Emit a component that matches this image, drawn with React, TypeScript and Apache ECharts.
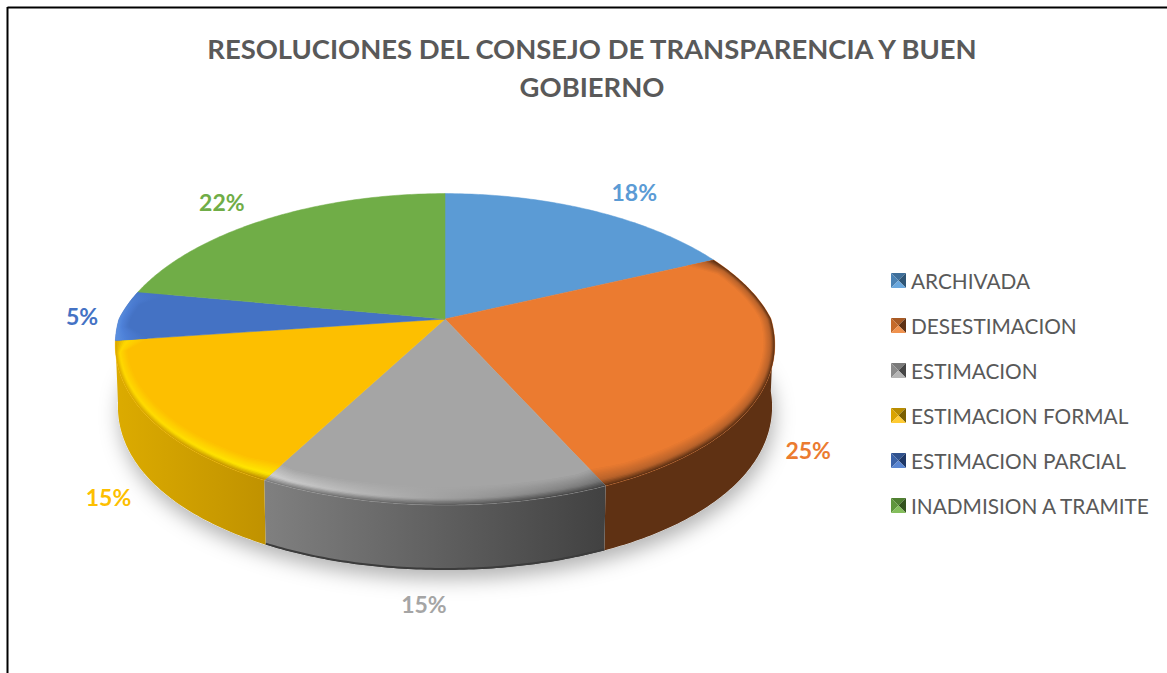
import React, { useEffect, useRef } from "react";
import * as echarts from "echarts";

const TITLE = "RESOLUCIONES DEL CONSEJO DE TRANSPARENCIA Y BUEN\nGOBIERNO";
const CATEGORIES = ["ARCHIVADA", "DESESTIMACION", "ESTIMACION", "ESTIMACION FORMAL", "ESTIMACION PARCIAL", "INADMISION A TRAMITE"];
const VALUES = [18, 25, 15, 15, 5, 22];
const COLORS = ["#5B9BD5", "#EB7B30", "#A5A5A5", "#FDBF00", "#4472C4", "#70AD47"];

// label nudges away from the rim, following the reference's "best fit" placement
const LABEL_NUDGE = [[43, -18], [40, 72], [-9, 99], [-42, 78], [-39.5, 2], [-46.6, -17]];

// side wall colours, left to right
const SIDE = [["#3F6F9A", "#3F6F9A"], ["#5F3113", "#5F3113"], ["#808080", "#414141"], ["#DCAB00", "#C09200"], ["#2F5597", "#2F5597"], ["#4E7A32", "#4E7A32"]];
// bevel colours: [outer, mid, inner] at left and at right of a slice; null means a flat slice
const RIM_LEFT = [
  null,
  ["#5F3113", "#B8622A", "#EB7B30"],
  ["#808080", "#CFCFCF", "#A5A5A5"],
  ["#DCAB00", "#FFD800", "#FDBF00"],
  ["#5B90E0", "#4F82DA", "#4472C4"],
  null,
];
const RIM_RIGHT = [
  null,
  ["#5F3113", "#B8622A", "#EB7B30"],
  ["#454545", "#787878", "#A5A5A5"],
  ["#C09200", "#FFE800", "#FDBF00"],
  ["#4472C4", "#4472C4", "#4472C4"],
  null,
];
const LEGEND_SHADES = [
  ["#3F6F9A", "#4A82B4", "#2F5575", "#6AA8DE"],
  ["#A85A24", "#C56A2A", "#5F3113", "#F0924E"],
  ["#7A7A7A", "#8A8A8A", "#454545", "#B5B5B5"],
  ["#B88C00", "#D9A300", "#7A5E00", "#FFCB33"],
  ["#30528E", "#3A62A8", "#1F3766", "#5A86D2"],
  ["#508031", "#5F963C", "#33531F", "#84BE5C"],
];

const CX = 445, CY = 319, RX = 326, RY_BACK = 150, RY_FRONT = 170;
const PX_BACK = 0.23, PX_FRONT = 0.15, PY_BACK = 0.196, PY_FRONT = 0.086;
const FLOOR_DROP = 61.3, FLOOR_SCALE_X = 0.992, FLOOR_SCALE_Y = 1.02;
const BEVEL_X = 0.034, BEVEL_Y = 0.098, BEVEL_STEPS = 14, BEVEL_PEAK = 0.32, EDGE_BLEND = 0.012;
const FRONT_START = 0.26, FRONT_END = 0.73;

const TOTAL = VALUES.reduce((a, b) => a + b, 0);
const STARTS = VALUES.map((_, i) => VALUES.slice(0, i).reduce((a, b) => a + b, 0) / TOTAL);

function rim(frac: number, bevel = 0, floor = false, bevelX = BEVEL_X): number[] {
  const a = frac * 2 * Math.PI;
  const u = Math.sin(a), v = Math.cos(a);
  const back = v >= 0;
  let x = (RX * u) / (1 + (back ? PX_BACK : PX_FRONT) * v);
  let y = (-(back ? RY_BACK : RY_FRONT) * v) / (1 + (back ? PY_BACK : PY_FRONT) * v);
  x *= 1 - bevelX * bevel;
  y *= 1 - BEVEL_Y * bevel;
  if (floor) { x *= FLOOR_SCALE_X; y = y * FLOOR_SCALE_Y + FLOOR_DROP; }
  return [CX + x, CY + y];
}
function arc(s: number, e: number, bevel = 0, floor = false): number[][] {
  const n = Math.max(2, Math.ceil((e - s) / 0.002));
  const out: number[][] = [];
  for (let i = 0; i <= n; i++) {
    const f = s + ((e - s) * i) / n;
    // at a slice's two ends the bevel closes along the straight radial edge
    const w = Math.max(0, 1 - Math.min(f - s, e - f) / EDGE_BLEND);
    out.push(rim(f, bevel, floor, BEVEL_X + (BEVEL_Y - BEVEL_X) * w));
  }
  return out;
}
function hex(c: string) { return [1, 3, 5].map((i) => parseInt(c.slice(i, i + 2), 16)); }
function mix(a: string, b: string, t: number) {
  const A = hex(a), B = hex(b);
  return `rgb(${A.map((v, i) => Math.round(v + (B[i] - v) * t)).join(",")})`;
}
function profile(p: string[], b: number) {
  // b = 0 at the outer rim, 1 on the flat top
  return b < BEVEL_PEAK ? mix(p[0], p[1], b / BEVEL_PEAK) : mix(p[1], p[2], (b - BEVEL_PEAK) / (1 - BEVEL_PEAK));
}
function hgrad(c0: string, c1: string) {
  return new echarts.graphic.LinearGradient(0, 0, 1, 0, [{ offset: 0, color: c0 }, { offset: 1, color: c1 }]);
}
function legendIcon(i: number) {
  const [t, l, r, b] = LEGEND_SHADES[i];
  const svg = `<svg xmlns="http://www.w3.org/2000/svg" width="15" height="15" viewBox="0 0 15 15"><polygon points="0,0 15,0 7.5,7.5" fill="${t}"/><polygon points="0,0 7.5,7.5 0,15" fill="${l}"/><polygon points="15,0 15,15 7.5,7.5" fill="${r}"/><polygon points="0,15 15,15 7.5,7.5" fill="${b}"/></svg>`;
  return "image://data:image/svg+xml;charset=utf-8," + encodeURIComponent(svg);
}

const FONT = "Lato, 'Open Sans', sans-serif";

function buildOption() {
  const shadow = {
    type: "custom", coordinateSystem: "none", silent: true, z: 1, data: [[1]],
    renderItem: () => ({
      type: "polygon", silent: true,
      shape: { points: arc(0, 1, 0, true) },
      style: { fill: "#ffffff", shadowBlur: 20, shadowColor: "rgba(0,0,0,0.3)", shadowOffsetY: 9, shadowOffsetX: 2 },
    }),
  };
  const sides = CATEGORIES.map((name, i) => ({
    type: "custom", name, coordinateSystem: "none", silent: true, z: 2,
    itemStyle: { color: COLORS[i] }, data: [[VALUES[i], STARTS[i]]],
    renderItem: (_: any, api: any) => {
      const start = api.value(1), end = start + api.value(0) / TOTAL;
      const s = Math.max(start, FRONT_START), e = Math.min(end, FRONT_END);
      if (e <= s) return { type: "group", children: [] };
      const floorArc = arc(s, e, 0, true);
      const children: any[] = [{
        type: "polygon", silent: true,
        shape: { points: [...arc(s, e), ...floorArc.slice().reverse()] },
        style: { fill: hgrad(SIDE[i][0], SIDE[i][1]) },
      }];
      if (i === 2) children.push({ type: "polyline", silent: true, shape: { points: floorArc.map((p) => [p[0], p[1] - 1]) }, style: { stroke: "#3C3C3C", lineWidth: 2, fill: "none" } });
      return { type: "group", children };
    },
  }));
  const tops = CATEGORIES.map((name, i) => ({
    type: "custom", name, coordinateSystem: "none", silent: true, z: 3,
    itemStyle: { color: COLORS[i] }, data: [[VALUES[i], STARTS[i]]],
    renderItem: (_: any, api: any) => {
      const value = api.value(0), start = api.value(1), end = start + value / TOTAL;
      const children: any[] = [];
      const left = RIM_LEFT[i], right = RIM_RIGHT[i];
      // base sector under the bevel, so that no background shows between slices
      children.push({
        type: "polygon", silent: true,
        shape: { points: [[CX, CY], ...arc(start, end, 0)] },
        style: { fill: COLORS[i], stroke: COLORS[i], lineWidth: 0.5 },
      });
      if (left && right) {
        for (let k = 0; k < BEVEL_STEPS; k++) {
          const f = k / BEVEL_STEPS;
          const inner = Math.min(1, (k + 2) / BEVEL_STEPS);
          children.push({
            type: "polygon", silent: true,
            shape: { points: [...arc(start, end, f), ...arc(start, end, inner).reverse()] },
            style: { fill: hgrad(profile(left, f), profile(right, f)) },
          });
        }
      }
      const mid = rim((start + end) / 2);
      children.push({
        type: "text", silent: true,
        style: {
          x: mid[0] + LABEL_NUDGE[i][0], y: mid[1] + LABEL_NUDGE[i][1], text: `${Math.round((value / TOTAL) * 100)}%`,
          fill: COLORS[i], font: `bold 23px ${FONT}`, align: "center", verticalAlign: "middle",
        },
      });
      return { type: "group", children };
    },
  }));
  return {
    animation: false,
    backgroundColor: "#ffffff",
    title: {
      text: TITLE, left: 587, top: 24, textAlign: "center",
      textStyle: { color: "#595959", fontFamily: FONT, fontWeight: "bold", fontSize: 27.4, lineHeight: 38 },
    },
    legend: {
      orient: "vertical", left: 886, top: 265, itemWidth: 15, itemHeight: 15, itemGap: 24, selectedMode: false,
      textStyle: { color: "#595959", fontFamily: FONT, fontSize: 20.8, lineHeight: 21 },
      data: CATEGORIES.map((name, i) => ({ name, icon: legendIcon(i) })),
    },
    graphic: [
      { type: "line", silent: true, shape: { x1: 7.5, y1: 7.5, x2: 1167, y2: 7.5 }, style: { stroke: "#000", lineWidth: 2 } },
      { type: "line", silent: true, shape: { x1: 7.5, y1: 7, x2: 7.5, y2: 673 }, style: { stroke: "#000", lineWidth: 2 } },
    ],
    series: [shadow, ...sides, ...tops],
  };
}

export default function App() {
  const ref = useRef<HTMLDivElement>(null);
  useEffect(() => {
    const chart = echarts.init(ref.current!, undefined, { renderer: "svg" });
    chart.setOption(buildOption() as any);
    return () => chart.dispose();
  }, []);
  return <div ref={ref} style={{ position: "absolute", left: 0, top: 0, width: 1167, height: 673 }} />;
}
